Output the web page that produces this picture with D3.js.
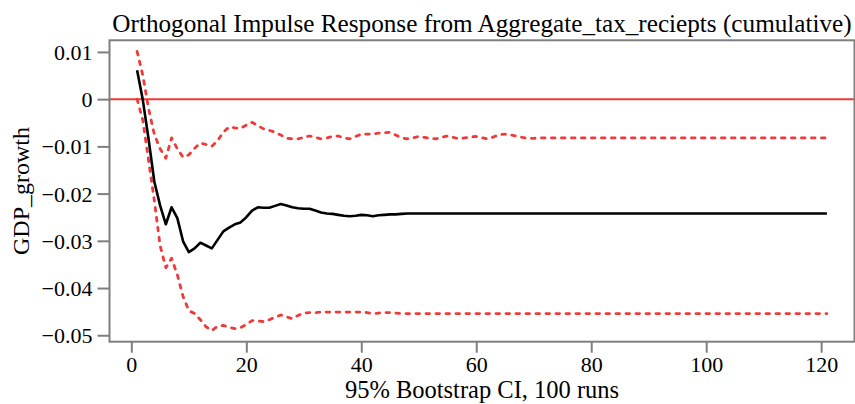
<!DOCTYPE html>
<html>
<head>
<meta charset="utf-8">
<script src="https://cdn.jsdelivr.net/npm/d3@7"></script>
<style>
  html, body { margin: 0; padding: 0; background: #ffffff; }
  svg { display: block; }
  text { font-family: "Liberation Serif", "Times New Roman", serif; fill: #000; }
</style>
</head>
<body>
<svg id="chart" width="855" height="404"></svg>
<script>
// ---- data ----
const periods = d3.range(1, 122); // 1..121 (index of horizons)

const irf = [
  0.0061, -0.0002, -0.0085, -0.0175, -0.0225, -0.0265, -0.0229, -0.0252, -0.0301, -0.0324,
  -0.0316, -0.0304, -0.0310, -0.0316, -0.0298, -0.0280, -0.0272, -0.0265, -0.0261, -0.0250,
  -0.0236, -0.0229, -0.0230, -0.0230, -0.0226, -0.0222, -0.0225, -0.0229, -0.0231, -0.0232,
  -0.0232, -0.0236, -0.0240, -0.0242, -0.0243, -0.0245, -0.0247, -0.0248, -0.0247, -0.0245,
  -0.0246, -0.0248, -0.0246, -0.0245, -0.0244, -0.0244, -0.0243, -0.0242, -0.0242, -0.0242,
  -0.0242, -0.0242, -0.0242, -0.0242, -0.0242, -0.0242, -0.0242, -0.0242, -0.0242, -0.0242,
  -0.0242, -0.0242, -0.0242, -0.0242, -0.0242, -0.0242, -0.0242, -0.0242, -0.0242, -0.0242,
  -0.0242, -0.0242, -0.0242, -0.0242, -0.0242, -0.0242, -0.0242, -0.0242, -0.0242, -0.0242,
  -0.0242, -0.0242, -0.0242, -0.0242, -0.0242, -0.0242, -0.0242, -0.0242, -0.0242, -0.0242,
  -0.0242, -0.0242, -0.0242, -0.0242, -0.0242, -0.0242, -0.0242, -0.0242, -0.0242, -0.0242,
  -0.0242, -0.0242, -0.0242, -0.0242, -0.0242, -0.0242, -0.0242, -0.0242, -0.0242, -0.0242,
  -0.0242, -0.0242, -0.0242, -0.0242, -0.0242, -0.0242, -0.0242, -0.0242, -0.0242, -0.0242,
  -0.0242
];

const upper = [
  0.0101, 0.0050, -0.0020, -0.0075, -0.0105, -0.0125, -0.0082, -0.0105, -0.0123, -0.0118,
  -0.0104, -0.0093, -0.0096, -0.0100, -0.0088, -0.0070, -0.0059, -0.0061, -0.0062, -0.0055,
  -0.0049, -0.0056, -0.0063, -0.0066, -0.0070, -0.0076, -0.0083, -0.0084, -0.0084, -0.0081,
  -0.0078, -0.0081, -0.0084, -0.0082, -0.0079, -0.0078, -0.0082, -0.0084, -0.0079, -0.0074,
  -0.0074, -0.0074, -0.0072, -0.0071, -0.0070, -0.0076, -0.0082, -0.0084, -0.0082, -0.0079,
  -0.0081, -0.0083, -0.0084, -0.0081, -0.0078, -0.0081, -0.0084, -0.0082, -0.0080, -0.0079,
  -0.0082, -0.0084, -0.0080, -0.0075, -0.0074, -0.0076, -0.0078, -0.0081, -0.0083, -0.0083,
  -0.0082, -0.0082, -0.0082, -0.0082, -0.0082, -0.0082, -0.0082, -0.0082, -0.0082, -0.0082,
  -0.0082, -0.0082, -0.0082, -0.0082, -0.0082, -0.0082, -0.0082, -0.0082, -0.0082, -0.0082,
  -0.0082, -0.0082, -0.0082, -0.0082, -0.0082, -0.0082, -0.0082, -0.0082, -0.0082, -0.0082,
  -0.0082, -0.0082, -0.0082, -0.0082, -0.0082, -0.0082, -0.0082, -0.0082, -0.0082, -0.0082,
  -0.0082, -0.0082, -0.0082, -0.0082, -0.0082, -0.0082, -0.0082, -0.0082, -0.0082, -0.0082,
  -0.0082
];

const lower = [
  0.0000, -0.0045, -0.0130, -0.0215, -0.0310, -0.0357, -0.0337, -0.0372, -0.0418, -0.0448,
  -0.0454, -0.0467, -0.0482, -0.0490, -0.0481, -0.0479, -0.0483, -0.0486, -0.0484, -0.0477,
  -0.0469, -0.0470, -0.0471, -0.0467, -0.0462, -0.0457, -0.0461, -0.0465, -0.0458, -0.0453,
  -0.0452, -0.0452, -0.0451, -0.0451, -0.0451, -0.0451, -0.0451, -0.0451, -0.0451, -0.0451,
  -0.0452, -0.0454, -0.0453, -0.0452, -0.0452, -0.0453, -0.0454, -0.0454, -0.0454, -0.0454,
  -0.0454, -0.0454, -0.0454, -0.0454, -0.0454, -0.0454, -0.0454, -0.0454, -0.0454, -0.0454,
  -0.0454, -0.0454, -0.0454, -0.0454, -0.0454, -0.0454, -0.0454, -0.0454, -0.0454, -0.0454,
  -0.0454, -0.0454, -0.0454, -0.0454, -0.0454, -0.0454, -0.0454, -0.0454, -0.0454, -0.0454,
  -0.0454, -0.0454, -0.0454, -0.0454, -0.0454, -0.0454, -0.0454, -0.0454, -0.0454, -0.0454,
  -0.0454, -0.0454, -0.0454, -0.0454, -0.0454, -0.0454, -0.0454, -0.0454, -0.0454, -0.0454,
  -0.0454, -0.0454, -0.0454, -0.0454, -0.0454, -0.0454, -0.0454, -0.0454, -0.0454, -0.0454,
  -0.0454, -0.0454, -0.0454, -0.0454, -0.0454, -0.0454, -0.0454, -0.0454, -0.0454, -0.0454,
  -0.0454
];

const xTicks = [0, 20, 40, 60, 80, 100, 120];
const yTicks = [0.01, 0, -0.01, -0.02, -0.03, -0.04, -0.05];
const yTickLabels = ["0.01", "0", "\u22120.01", "\u22120.02", "\u22120.03", "\u22120.04", "\u22120.05"];
const xTickLabels = ["0", "20", "40", "60", "80", "100", "120"];

const titleText = "Orthogonal Impulse Response from Aggregate_tax_reciepts (cumulative)";
const xLabelText = "95% Bootstrap CI, 100 runs";
const yLabelText = "GDP_growth";

// ---- layout ----
const plot = { left: 109.5, right: 854.5, top: 40.3, bottom: 341.7 };
const axisColor = "#7f7f7f";
const redColor = "#ee3a3a";

const svg = d3.select("#chart");

// R style 4% padding on data range
const xExt = d3.extent(periods);
const xPad = 0.04 * (xExt[1] - xExt[0]);
const allVals = irf.concat(upper, lower);
const yExt = d3.extent(allVals);
const yPad = 0.04 * (yExt[1] - yExt[0]);

const x = d3.scaleLinear().domain([xExt[0] - xPad, xExt[1] + xPad]).range([plot.left, plot.right]);
const y = d3.scaleLinear().domain([yExt[0] - yPad, yExt[1] + yPad]).range([plot.bottom, plot.top]);

svg.append("defs").append("clipPath").attr("id", "clip")
  .append("rect")
  .attr("x", plot.left).attr("y", plot.top)
  .attr("width", plot.right - plot.left).attr("height", plot.bottom - plot.top);

const g = svg.append("g").attr("clip-path", "url(#clip)");

// zero line
g.append("line")
  .attr("x1", plot.left).attr("x2", plot.right)
  .attr("y1", y(0)).attr("y2", y(0))
  .attr("stroke", redColor).attr("stroke-width", 2);

const line = d3.line().x((d, i) => x(periods[i])).y(d => y(d));

[upper, lower].forEach(series => {
  g.append("path")
    .datum(series)
    .attr("d", line)
    .attr("fill", "none")
    .attr("stroke", redColor)
    .attr("stroke-width", 2.8)
    .attr("stroke-dasharray", "3.6,6.4")
    .attr("stroke-linecap", "round")
    .attr("stroke-linejoin", "round");
});

g.append("path")
  .datum(irf)
  .attr("d", line)
  .attr("fill", "none")
  .attr("stroke", "#000")
  .attr("stroke-width", 2.6)
  .attr("stroke-linejoin", "round");

// box
svg.append("rect")
  .attr("x", plot.left).attr("y", plot.top)
  .attr("width", plot.right - plot.left).attr("height", plot.bottom - plot.top)
  .attr("fill", "none").attr("stroke", axisColor).attr("stroke-width", 2);

// y axis
const yAxis = d3.axisLeft(y)
  .tickValues(yTicks)
  .tickSize(12)
  .tickPadding(5)
  .tickFormat((d, i) => yTickLabels[i]);
const yg = svg.append("g").attr("transform", `translate(${plot.left},0)`).call(yAxis);
yg.select(".domain").remove();
yg.selectAll(".tick line").attr("stroke", axisColor).attr("stroke-width", 2);
yg.selectAll(".tick text")
  .attr("font-family", "Liberation Serif")
  .attr("font-size", 22)
  .attr("fill", "#000")
  .attr("dy", "0.34em");

// x axis
const xAxis = d3.axisBottom(x)
  .tickValues(xTicks)
  .tickSize(11)
  .tickPadding(4)
  .tickFormat((d, i) => xTickLabels[i]);
const xg = svg.append("g").attr("transform", `translate(0,${plot.bottom})`).call(xAxis);
xg.select(".domain").remove();
xg.selectAll(".tick line").attr("stroke", axisColor).attr("stroke-width", 2);
xg.selectAll(".tick text")
  .attr("font-family", "Liberation Serif")
  .attr("font-size", 22)
  .attr("fill", "#000")
  .attr("dy", "0.71em");

// title
const cx = (plot.left + plot.right) / 2;
svg.append("text")
  .attr("x", cx).attr("y", 32)
  .attr("text-anchor", "middle")
  .attr("font-size", 25.2)
  .text(titleText);

// x label
svg.append("text")
  .attr("x", cx).attr("y", 398)
  .attr("text-anchor", "middle")
  .attr("font-size", 24.5)
  .text(xLabelText);

// y label
const cy = (plot.top + plot.bottom) / 2;
svg.append("text")
  .attr("transform", `translate(29,${cy}) rotate(-90)`)
  .attr("text-anchor", "middle")
  .attr("font-size", 24)
  .text(yLabelText);
</script>
</body>
</html>
